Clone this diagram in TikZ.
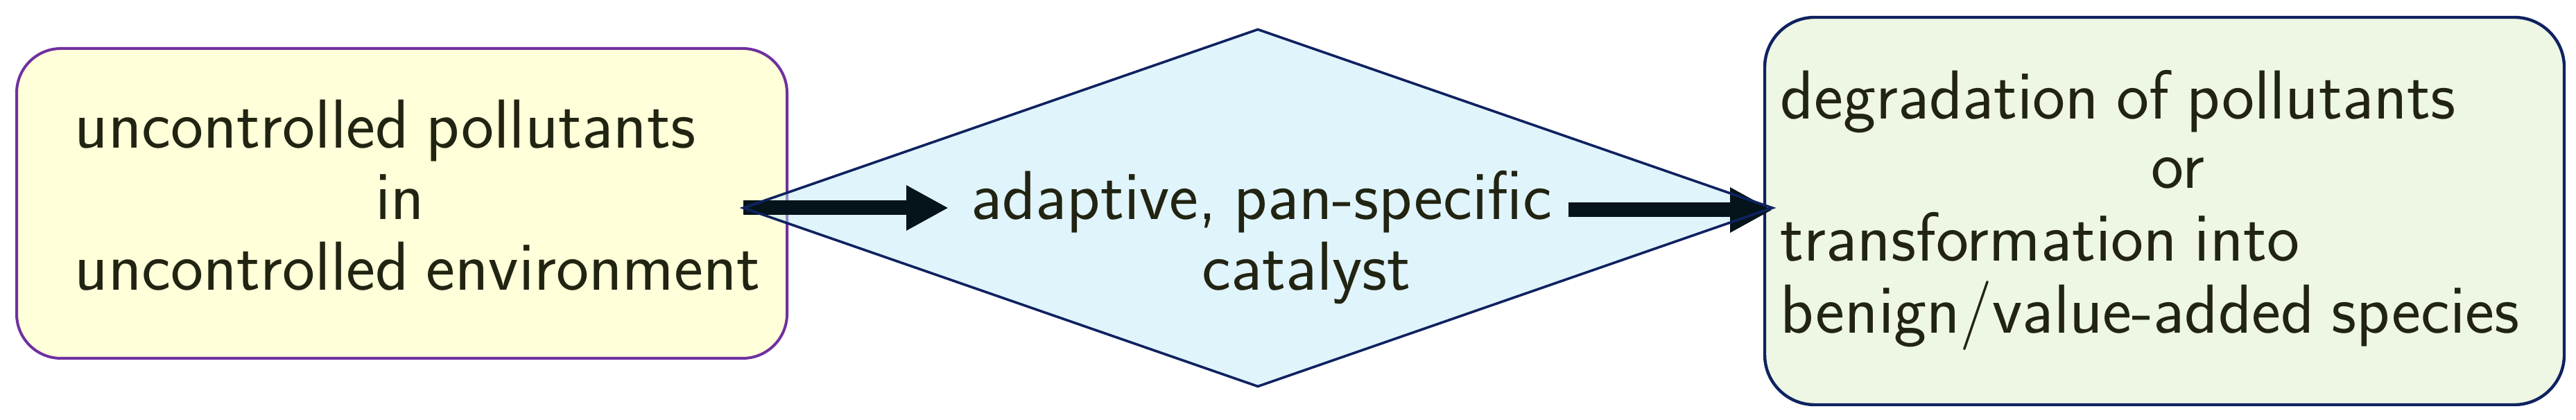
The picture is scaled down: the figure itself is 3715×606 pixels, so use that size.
\documentclass[tikz,border=0pt]{standalone}
\usetikzlibrary{shapes.geometric,arrows.meta}
\definecolor{boxyellow}{HTML}{FFFFD9}
\definecolor{boxpurple}{HTML}{7030A0}
\definecolor{diafill}{HTML}{C2E9F9}
\definecolor{navy}{HTML}{0F2260}
\definecolor{boxgreen}{HTML}{EEF6E4}
\definecolor{arrowdark}{HTML}{04141A}
\definecolor{txt}{HTML}{222412}
\newcommand\tightsp{\spaceskip=0.25em\relax}
\begin{document}
\begin{tikzpicture}[x=0.25pt,y=-0.25pt,
  lbl/.style={inner sep=0, text=txt, font=\sffamily\fontsize{25pt}{30pt}\selectfont,
              execute at begin node=\tightsp},
  flow/.style={draw=arrowdark, line width=5.25pt, -{Triangle[length=15.25pt,width=15.25pt]}},
  roundbox/.style={inner sep=0, outer sep=0}]
\useasboundingbox (0,0) rectangle (3715,606);
% boxes
\node[roundbox, draw=boxpurple, fill=boxyellow, line width=1pt, rounded corners=16pt,
      minimum width=1111*0.25pt, minimum height=447*0.25pt] (src) at (579.5,293.5) {};
\node[roundbox, draw=navy, fill=boxgreen, line width=1.1pt, rounded corners=18pt,
      minimum width=1153*0.25pt, minimum height=559*0.25pt] (dst) at (3121.5,304.5) {};
% diamond (semi-transparent fill)
\node[diamond, fill=diafill, fill opacity=0.5, inner sep=0, outer sep=0,
      minimum width=1484*0.25pt, minimum height=515*0.25pt] (dia) at (1814,300) {};
% texts
\node[lbl, anchor=base west] (s1) at (107,214) {uncontrolled pollutants};
\node[lbl, anchor=base] (s2) at (577,317) {in};
\node[lbl, anchor=base west] (s3) at (107,419) {uncontrolled environment};
\node[lbl, anchor=base] (c1) at (1819,317) {adaptive, pan-specific};
\node[lbl, anchor=base] (c2) at (1884,419) {catalyst};
\node[lbl, anchor=base west] (d1) at (2567,172) {degradation of pollutants};
\node[lbl, anchor=base] (d2) at (3141,272) {or};
\node[lbl, anchor=base west] (d3) at (2567,377) {transformation into};
\node[lbl, anchor=base west] (d4) at (2567,481) {benign/value-added species};
% arrows
\coordinate (a1e) at (1368,300);
\coordinate (a2s) at (2262,303);
\draw[flow] (dia.west) -- (a1e);
\draw[flow] (a2s) -- (a2s -| dia.east);
% diamond border over the arrows
\draw[navy, line width=0.9pt] (dia.north) -- (dia.east) -- (dia.south) -- (dia.west) -- cycle;
\end{tikzpicture}
\end{document}
